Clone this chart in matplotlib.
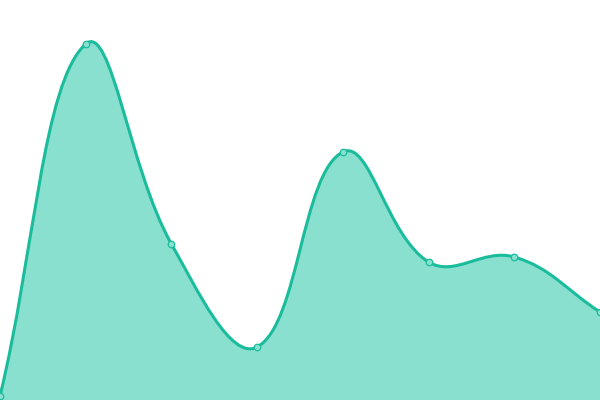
import numpy as np
import matplotlib
matplotlib.use('Agg')
import matplotlib.pyplot as plt
from matplotlib.path import Path
from matplotlib.patches import PathPatch

# values
labels = ['A', 'B', 'C', 'D', 'E', 'F', 'G', 'H']
values = [4, 356, 156, 53, 248, 138, 143, 88]

line_color = '#1abc9c'
fill_color = '#8ae0cf'
tension = 0.4

W, H = 600, 400
y_max = 400

fig = plt.figure(figsize=(W / 100, H / 100), dpi=100)
ax = fig.add_axes([0, 0, 1, 1])
ax.set_xlim(0, len(values) - 1)
ax.set_ylim(0, y_max)
ax.axis('off')

# scale factors data -> pixels, so the spline is built like a canvas chart would
sx = W / (len(values) - 1)
sy = H / y_max
xs = np.arange(len(values))
pts = np.column_stack([xs * sx, np.array(values) * sy])


def spline_controls(pts, t):
    n = len(pts)
    ctrl_prev = np.zeros_like(pts)
    ctrl_next = np.zeros_like(pts)
    for i in range(n):
        prev = pts[max(i - 1, 0)]
        cur = pts[i]
        nxt = pts[min(i + 1, n - 1)]
        d01 = np.hypot(*(cur - prev))
        d12 = np.hypot(*(nxt - cur))
        tot = d01 + d12
        s01 = d01 / tot if tot else 0
        s12 = d12 / tot if tot else 0
        ctrl_prev[i] = cur - t * s01 * (nxt - prev)
        ctrl_next[i] = cur + t * s12 * (nxt - prev)
    # keep control points inside the chart area
    for c in (ctrl_prev, ctrl_next):
        c[:, 0] = np.clip(c[:, 0], 0, W)
        c[:, 1] = np.clip(c[:, 1], 0, H)
    return ctrl_prev, ctrl_next


cp, cn = spline_controls(pts, tension)
verts = [tuple(pts[0])]
codes = [Path.MOVETO]
for i in range(1, len(pts)):
    verts += [tuple(cn[i - 1]), tuple(cp[i]), tuple(pts[i])]
    codes += [Path.CURVE4] * 3

to_data = np.array([1 / sx, 1 / sy])
line_verts = np.array(verts) * to_data

fill_verts = np.vstack([line_verts, [[xs[-1], 0], [0, 0], [0, 0]]])
fill_codes = codes + [Path.LINETO, Path.LINETO, Path.CLOSEPOLY]
ax.add_patch(PathPatch(Path(fill_verts, fill_codes), facecolor=fill_color,
                       edgecolor='none', zorder=1))
ax.add_patch(PathPatch(Path(line_verts, codes), facecolor='none',
                       edgecolor=line_color, lw=2.2, zorder=2,
                       capstyle='round', joinstyle='round'))

ax.scatter(xs, values, s=22, facecolor=fill_color, edgecolor=line_color,
           linewidth=0.9, zorder=3, clip_on=False)

fig.savefig('out.png', dpi=100)
